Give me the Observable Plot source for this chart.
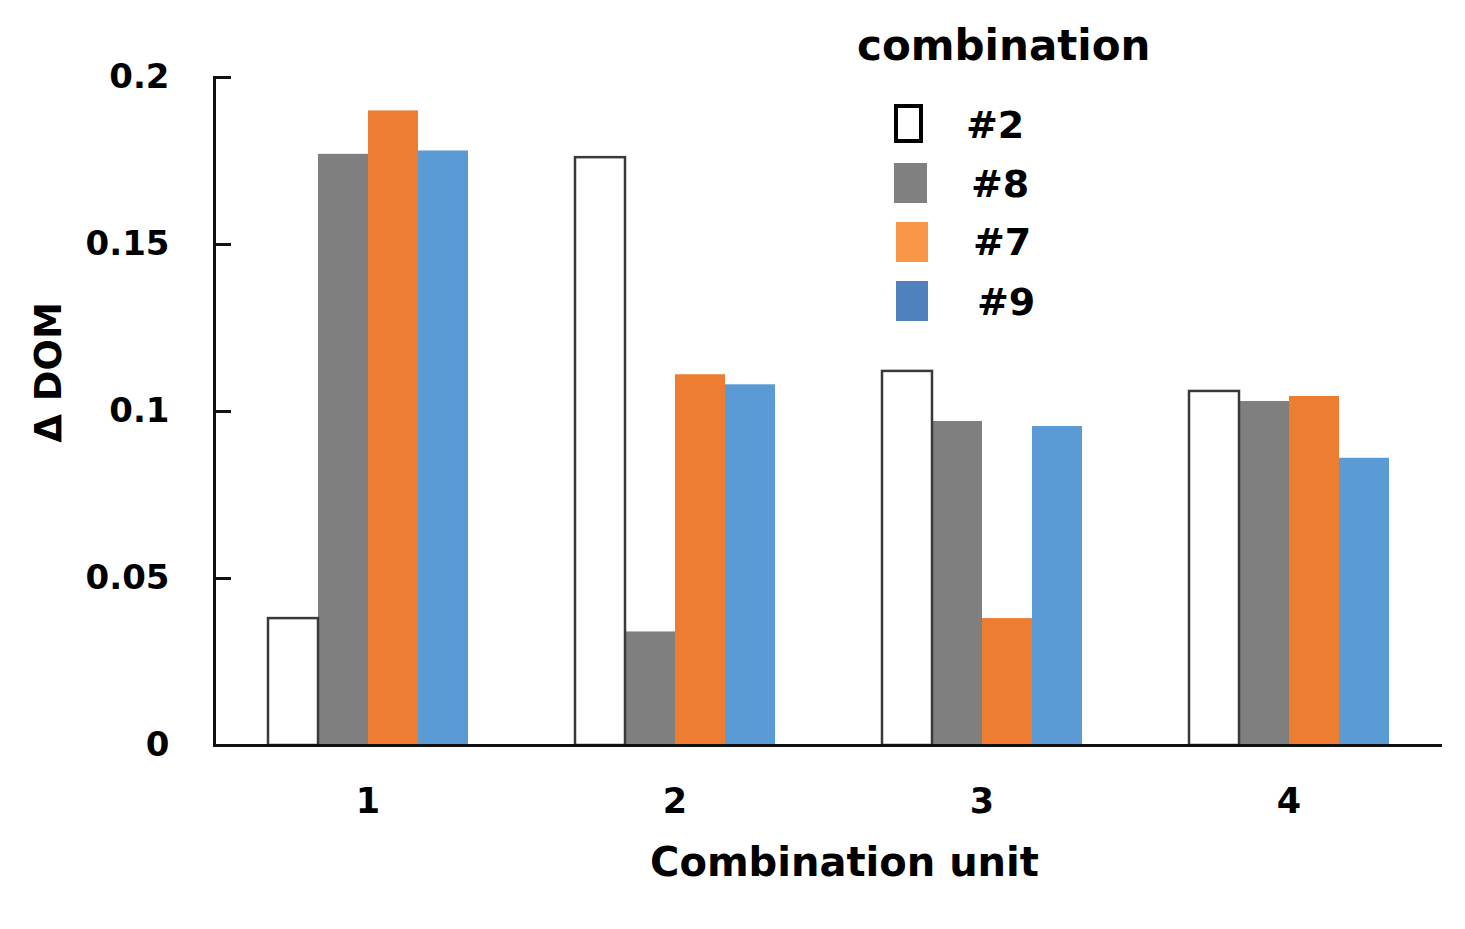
<!DOCTYPE html>
<html>
<head>
<meta charset="utf-8">
<script src="https://cdn.jsdelivr.net/npm/d3@7"></script>
<script src="https://cdn.jsdelivr.net/npm/@observablehq/plot@0.6"></script>
<style>
  html, body { margin: 0; padding: 0; background: #fff; }
  #wrap { position: relative; width: 1465px; height: 929px; font-family: "DejaVu Sans", sans-serif; }
  #wrap svg { position: absolute; left: 0; top: 0; }
  g[aria-label="fx-axis label"] { font-size: 40px; translate: 16px 0; }
  g[aria-label="y-axis label"] { font-size: 37px; translate: 0 -39px; }
  .leg { position: absolute; font-weight: bold; color: #000; line-height: 1; white-space: nowrap; }
  .sw { position: absolute; box-sizing: border-box; }
</style>
</head>
<body>
<div id="wrap"></div>
<script>
// ---- data ----
const units = ["1", "2", "3", "4"];
const combos = ["#2", "#8", "#7", "#9"];
const values2 = [0.038, 0.176, 0.112, 0.106];
const values8 = [0.177, 0.034, 0.097, 0.103];
const values7 = [0.190, 0.111, 0.038, 0.1045];
const values9 = [0.178, 0.108, 0.0955, 0.086];
const barColors = ["#ffffff", "#7f7f7f", "#ed7d31", "#5b9bd5"];
const legendColors = ["#ffffff", "#808080", "#f79646", "#4f81bd"];
const yTicks = [0, 0.05, 0.1, 0.15, 0.2];
const yTickLabels = ["0", "0.05", "0.1", "0.15", "0.2"];

const seriesValues = [values2, values8, values7, values9];
const data = [];
units.forEach((u, i) => combos.forEach((c, j) => data.push({unit: u, combo: c, value: seriesValues[j][i]})));

const chart = Plot.plot({
  width: 1465,
  height: 929,
  marginLeft: 213,
  marginRight: 22,
  marginTop: 77,
  marginBottom: 184,
  style: {fontFamily: "DejaVu Sans, sans-serif", fontWeight: "bold", color: "#000", background: "transparent"},
  fx: {domain: units, padding: 0},
  x: {domain: combos, paddingInner: 0, paddingOuter: 1.044, axis: null},
  y: {domain: [0, 0.2], label: "Δ DOM", labelArrow: "none"},
  color: {domain: combos, range: barColors},
  marks: [
    Plot.barY(data, {fx: "unit", x: "combo", y: "value", fill: "combo"}),
    Plot.barY(data.filter(d => d.combo === "#2"), {fx: "unit", x: "combo", y: "value", fill: "none", stroke: "#3a3a3a", strokeWidth: 2.5}),
    Plot.ruleY([0], {stroke: "#111", strokeWidth: 3}),
    Plot.frame({anchor: "left", facetAnchor: "left", stroke: "#111", strokeWidth: 3}),
    Plot.axisY({
      ticks: yTicks,
      tickFormat: d => yTickLabels[yTicks.indexOf(d)],
      tickSize: -17,
      tickPadding: 62,
      strokeWidth: 3,
      stroke: "#111",
      fontSize: 34,
      fontWeight: "bold",
      label: "Δ DOM",
      labelArrow: "none",
      labelAnchor: "center",
      labelOffset: 180
    }),
    Plot.axisFx({
      anchor: "bottom",
      tickSize: 0,
      tickPadding: 43,
      fontSize: 35,
      fontWeight: "bold",
      label: "Combination unit",
      labelArrow: "none",
      labelAnchor: "center",
      labelOffset: 130
    })
  ]
});
const wrap = document.getElementById("wrap");
wrap.appendChild(chart);

// ---- legend (HTML) ----
const title = document.createElement("div");
title.className = "leg";
title.style.cssText = "left:857px;top:25px;font-size:42px;";
title.textContent = "combination";
wrap.appendChild(title);

const swatchBoxes = [
  {l: 894, t: 104, w: 29, h: 39},
  {l: 894, t: 163, w: 33, h: 40},
  {l: 896, t: 222, w: 32, h: 40},
  {l: 896, t: 281, w: 32, h: 40}
];
const labelPos = [{l: 966, t: 106}, {l: 971, t: 165}, {l: 973, t: 223}, {l: 977, t: 283}];
combos.forEach((c, i) => {
  const s = document.createElement("div");
  s.className = "sw";
  const b = swatchBoxes[i];
  s.style.cssText = `left:${b.l}px;top:${b.t}px;width:${b.w}px;height:${b.h}px;background:${legendColors[i]};` +
    (i === 0 ? "border:4px solid #000;" : "");
  wrap.appendChild(s);
  const t = document.createElement("div");
  t.className = "leg";
  t.style.cssText = `left:${labelPos[i].l}px;top:${labelPos[i].t}px;font-size:38px;`;
  t.textContent = c;
  wrap.appendChild(t);
});
</script>
</body>
</html>
